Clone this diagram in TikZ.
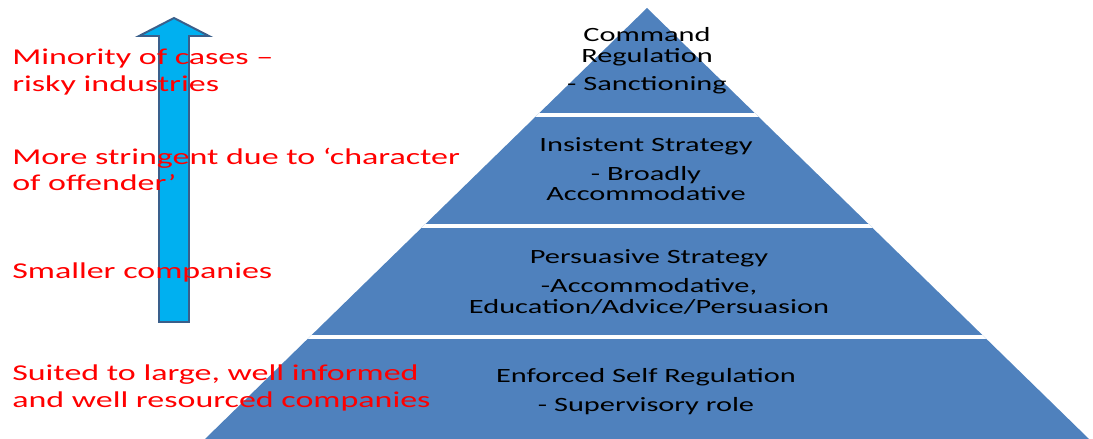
\documentclass[tikz,border=0pt]{standalone}
\usepackage{fontspec}
\newfontfamily\pyrfont[FakeStretch=1.5]{Carlito}
\definecolor{pyrblue}{HTML}{4F81BD}
\definecolor{arrowcyan}{HTML}{00B0F0}
\definecolor{arrowedge}{HTML}{3A5F8B}

\begin{document}
\begin{tikzpicture}[
  x=0.025cm, y=-0.025cm,
  band/.style={font=\pyrfont\fontsize{14.4}{14.6}\selectfont, align=center, anchor=base, inner sep=0},
  note/.style={font=\pyrfont\fontsize{16.1}{19.2}\selectfont, text=red, align=left, anchor=base west, inner sep=0},
  gap/.style={draw=white, line width=2.2pt}
  ]
\useasboundingbox (0,0) rectangle (1093,439);
\fill [pyrblue] (647,8) -- (1089,439) -- (205,439) -- cycle;
\begin{scope}
\clip (647,8) -- (1089,439) -- (205,439) -- cycle;
\draw [gap] (200,115) -- (1093,115);
\draw [gap] (200,226) -- (1093,226);
\draw [gap] (200,337) -- (1093,337);
\end{scope}
\draw [draw=arrowedge, line width=1.4pt, fill=arrowcyan, line join=miter]
  (174,18) -- (209,36) -- (189,36) -- (189,322) -- (159,322) -- (159,36) -- (139,36) -- cycle;
\node [band] (command) at (647,91) {Command\\Regulation\\[6pt]- Sanctioning};
\node [band] (insistent) at (646,201) {Insistent Strategy\\[6pt]- Broadly\\Accommodative};
\node [band] (persuasive) at (649,313) {Persuasive Strategy\\[6pt]-Accommodative,\\Education/Advice/Persuasion};
\node [band] (enforced) at (646,411) {Enforced Self Regulation\\[6pt]- Supervisory role};
\node [note] (minority) at (12,92) {Minority of cases –\\risky industries};
\node [note] (stringent) at (12,191) {More stringent due to ‘character\\of offender’};
\node [note] (smaller) at (12,278) {Smaller companies};
\node [note] (suited) at (12,407) {Suited to large, well informed\\and well resourced companies};
\end{tikzpicture}
\end{document}
